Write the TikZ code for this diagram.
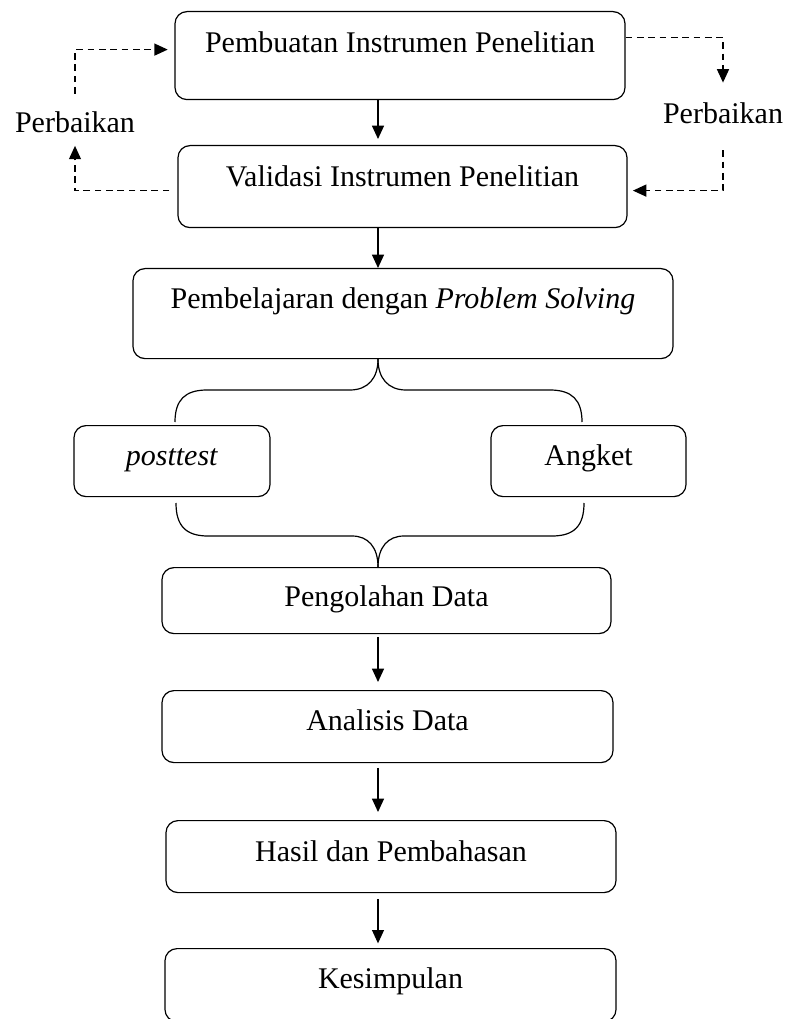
\documentclass[tikz,border=0pt]{standalone}
\usepackage{fontspec}
\setmainfont{Liberation Serif}
\usetikzlibrary{arrows.meta}

\tikzset{
  box/.style={draw, rounded corners=9pt, inner sep=0pt, anchor=north, text height=30pt, text depth=23.25pt, font=\fontsize{22.5}{27}\selectfont},
  lbl/.style={anchor=base, inner xsep=0pt, inner ysep=9pt, font=\fontsize{22.5}{27}\selectfont},
  arr/.style={-{Triangle[length=10pt,width=9pt]}},
  dasharr/.style={arr, dash pattern=on 5pt off 3.5pt},
}

\begin{document}
\begin{tikzpicture}[x=0.75pt,y=0.75pt,yscale=-1,line width=0.9pt]
\useasboundingbox (0,0) rectangle (788,1019);
\coordinate (axis) at (378,0);
\node[box, minimum width=337.5pt, text height=30.75pt, text depth=35.25pt] (pembuatan) at (400,11) {Pembuatan Instrumen Penelitian};
\node[box, minimum width=336.75pt, text height=30.75pt, text depth=30.75pt] (validasi) at (402.5,145) {Validasi Instrumen Penelitian};
\node[box, minimum width=405pt, text depth=37.5pt] (pembelajaran) at (403,268) {Pembelajaran dengan \textit{Problem Solving}};
\node[box, minimum width=147pt] (posttest) at (172,425) {\textit{posttest}};
\node[box, minimum width=146.25pt] (angket) at (588.5,425) {Angket};
\node[box, minimum width=336.75pt, text height=29.25pt, text depth=20.25pt] (pengolahan) at (386.5,567) {Pengolahan Data};
\node[box, minimum width=338.25pt, text depth=24pt] (analisis) at (387.5,690) {Analisis Data};
\node[box, minimum width=337.5pt, text height=30.75pt] (hasil) at (391,820) {Hasil dan Pembahasan};
\node[box, minimum width=338.25pt, text depth=24.75pt] (kesimpulan) at (390.5,948) {Kesimpulan};
\node[lbl] (perbaikanL) at (75,133) {Perbaikan};
\node[lbl, inner ysep=15pt] (perbaikanR) at (723,124) {Perbaikan};

\draw[arr, shorten >=4.5pt] (pembuatan.south -| axis) -- (validasi.north -| axis);
\draw[arr] (validasi.south -| axis) -- (pembelajaran.north -| axis);
\draw[arr, shorten <=2pt, shorten >=6pt] (pengolahan.south -| axis) -- (analisis.north -| axis);
\draw[arr, shorten <=3.5pt, shorten >=6pt] (analisis.south -| axis) -- (hasil.north -| axis);
\draw[arr, shorten <=4.5pt, shorten >=3.5pt] (hasil.south -| axis) -- (kesimpulan.north -| axis);

\draw[dasharr] ([xshift=-6pt,yshift=3pt]validasi.west) -| (perbaikanL.south);
\draw[dasharr] ([yshift=-4.5pt]perbaikanL.north) |- ([xshift=-5pt,yshift=-4.5pt]pembuatan.west);
\draw[dasharr] ([yshift=-13.5pt]pembuatan.east) -| (perbaikanR.north);
\draw[dasharr] ([yshift=4pt]perbaikanR.south) |- ([xshift=4pt,yshift=3pt]validasi.east);

\draw (pembelajaran.south -| axis) .. controls (378,378) and (368,390) .. (350,390) -- (207,390) .. controls (185,390) and (175,400) .. (175,422);
\draw (pembelajaran.south -| axis) .. controls (378,378) and (388,390) .. (406,390) -- (550,390) .. controls (572,390) and (582,400) .. (582,422);
\draw (176,503) .. controls (176,526) and (186,536) .. (208,536) -- (352,536) .. controls (368,536) and (378,547) .. (pengolahan.north -| axis);
\draw (584,503) .. controls (584,526) and (574,536) .. (552,536) -- (404,536) .. controls (388,536) and (378,547) .. (pengolahan.north -| axis);
\end{tikzpicture}
\end{document}
